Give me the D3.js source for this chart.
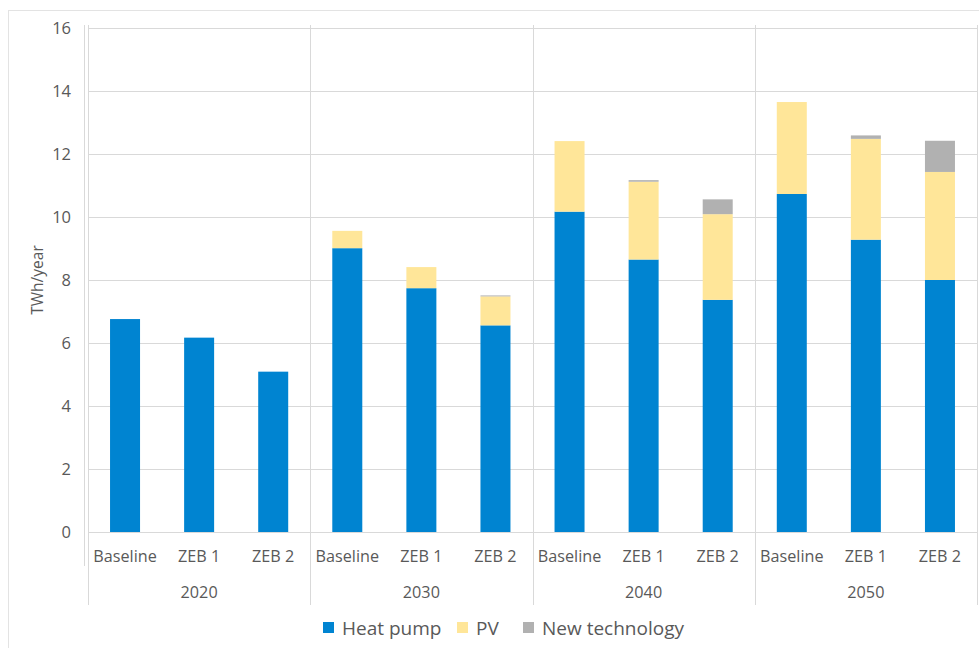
<!DOCTYPE html>
<html>
<head>
<meta charset="utf-8">
<script src="https://cdn.jsdelivr.net/npm/d3@7"></script>
<style>
  html, body { margin: 0; padding: 0; background: #fff; }
  svg { display: block; font-family: "Open Sans", "Noto Sans", sans-serif; }
</style>
</head>
<body>
<svg id="chart" width="979" height="648"></svg>
<script>
// ---- data ----
const years = ["2020", "2030", "2040", "2050"];
const scenarios = ["Baseline", "ZEB 1", "ZEB 2"];
const seriesNames = ["Heat pump", "PV", "New technology"];
const seriesColors = ["#0084D1", "#FFE699", "#B1B1B1"];
// values per year x scenario (TWh/year)
const heatPump = [6.76, 6.17, 5.09, 9.01, 7.74, 6.56, 10.17, 8.65, 7.37, 10.73, 9.28, 8.00];
const pv       = [0.00, 0.00, 0.00, 0.55, 0.67, 0.92, 2.24, 2.47, 2.72, 2.92, 3.20, 3.43];
const newTech  = [0.00, 0.00, 0.00, 0.00, 0.00, 0.03, 0.00, 0.05, 0.47, 0.00, 0.11, 0.99];
const yTicks = [0, 2, 4, 6, 8, 10, 12, 14, 16];
const yTitle = "TWh/year";

// ---- layout ----
const svg = d3.select("#chart");
const pLeft = 88, pRight = 977, pTop = 28, pBottom = 532;
const grid = "#D9D9D9", textCol = "#595959";

// outer frame
svg.append("rect").attr("x", 8.5).attr("y", 10.5).attr("width", 1000).attr("height", 700)
  .attr("fill", "none").attr("stroke", "#E3E3E3").attr("stroke-width", 1);

const y = d3.scaleLinear().domain([0, 16]).range([pBottom, pTop]);
const xYear = d3.scaleBand().domain(years).range([pLeft, pRight]).padding(0);
const xScen = d3.scaleBand().domain(scenarios).range([0, xYear.bandwidth()]).paddingInner(0.595).paddingOuter(0.2975);

const rows = years.flatMap((yr, i) => scenarios.map((sc, j) => {
  const k = i * scenarios.length + j;
  return { year: yr, scen: sc, "Heat pump": heatPump[k], "PV": pv[k], "New technology": newTech[k] };
}));

// gridlines
svg.append("g").selectAll("line").data(yTicks.filter(d => d > 0)).join("line")
  .attr("x1", pLeft).attr("x2", pRight)
  .attr("y1", d => Math.round(y(d)) + 0.5).attr("y2", d => Math.round(y(d)) + 0.5)
  .attr("stroke", grid).attr("stroke-width", 1);

// vertical group separators (incl. left & right edge)
const bounds = years.map(yr => xYear(yr)).concat([pRight]);
svg.append("g").selectAll("line").data(bounds).join("line")
  .attr("x1", d => Math.round(d) + 0.5).attr("x2", d => Math.round(d) + 0.5)
  .attr("y1", pTop - 3).attr("y2", 605)
  .attr("stroke", grid).attr("stroke-width", 1);
// small left axis stub
svg.append("line").attr("x1", 84.5).attr("x2", 84.5).attr("y1", pTop - 3).attr("y2", 566)
  .attr("stroke", grid).attr("stroke-width", 1);

// baseline axis
svg.append("line").attr("x1", pLeft).attr("x2", pRight)
  .attr("y1", pBottom + 0.5).attr("y2", pBottom + 0.5)
  .attr("stroke", grid).attr("stroke-width", 1);

// stacked bars
const stack = d3.stack().keys(seriesNames);
const layers = stack(rows);
svg.append("g").selectAll("g").data(layers).join("g")
  .attr("fill", (d, i) => seriesColors[i])
  .selectAll("rect").data(d => d.filter(p => p[1] - p[0] > 0)).join("rect")
  .attr("x", d => xYear(d.data.year) + xScen(d.data.scen))
  .attr("width", xScen.bandwidth())
  .attr("y", d => y(d[1]))
  .attr("height", d => y(d[0]) - y(d[1]));

// y axis tick labels
const yAxis = d3.axisLeft(y).tickValues(yTicks).tickSize(0).tickPadding(0).tickFormat(d3.format("d"));
const ya = svg.append("g").attr("transform", `translate(71,0)`).call(yAxis);
ya.select(".domain").remove();
ya.selectAll("text").attr("fill", textCol).attr("font-size", 16.5)
  .attr("font-family", "'Open Sans', sans-serif").attr("dy", "0.35em");

// y title
svg.append("text").attr("transform", "translate(43,280) rotate(-90)")
  .attr("text-anchor", "middle").attr("fill", textCol).attr("font-size", 15.5)
  .text(yTitle);

// category labels
const catG = svg.append("g");
years.forEach(yr => {
  scenarios.forEach(sc => {
    catG.append("text")
      .attr("x", xYear(yr) + xScen(sc) + xScen.bandwidth() / 2)
      .attr("y", 556).attr("dy", "0.35em")
      .attr("text-anchor", "middle").attr("fill", textCol).attr("font-size", 16.2)
      .text(sc);
  });
  catG.append("text")
    .attr("x", xYear(yr) + xYear.bandwidth() / 2)
    .attr("y", 592).attr("dy", "0.35em")
    .attr("text-anchor", "middle").attr("fill", textCol).attr("font-size", 16.2)
    .text(yr);
});

// legend
const legendX = [323, 457, 523];
const leg = svg.append("g");
seriesNames.forEach((s, i) => {
  leg.append("rect").attr("x", legendX[i]).attr("y", 622).attr("width", 11).attr("height", 11)
    .attr("fill", seriesColors[i]);
  leg.append("text").attr("x", legendX[i] + 19).attr("y", 628).attr("dy", "0.35em")
    .attr("fill", textCol).attr("font-size", 19).text(s);
});
</script>
</body>
</html>
